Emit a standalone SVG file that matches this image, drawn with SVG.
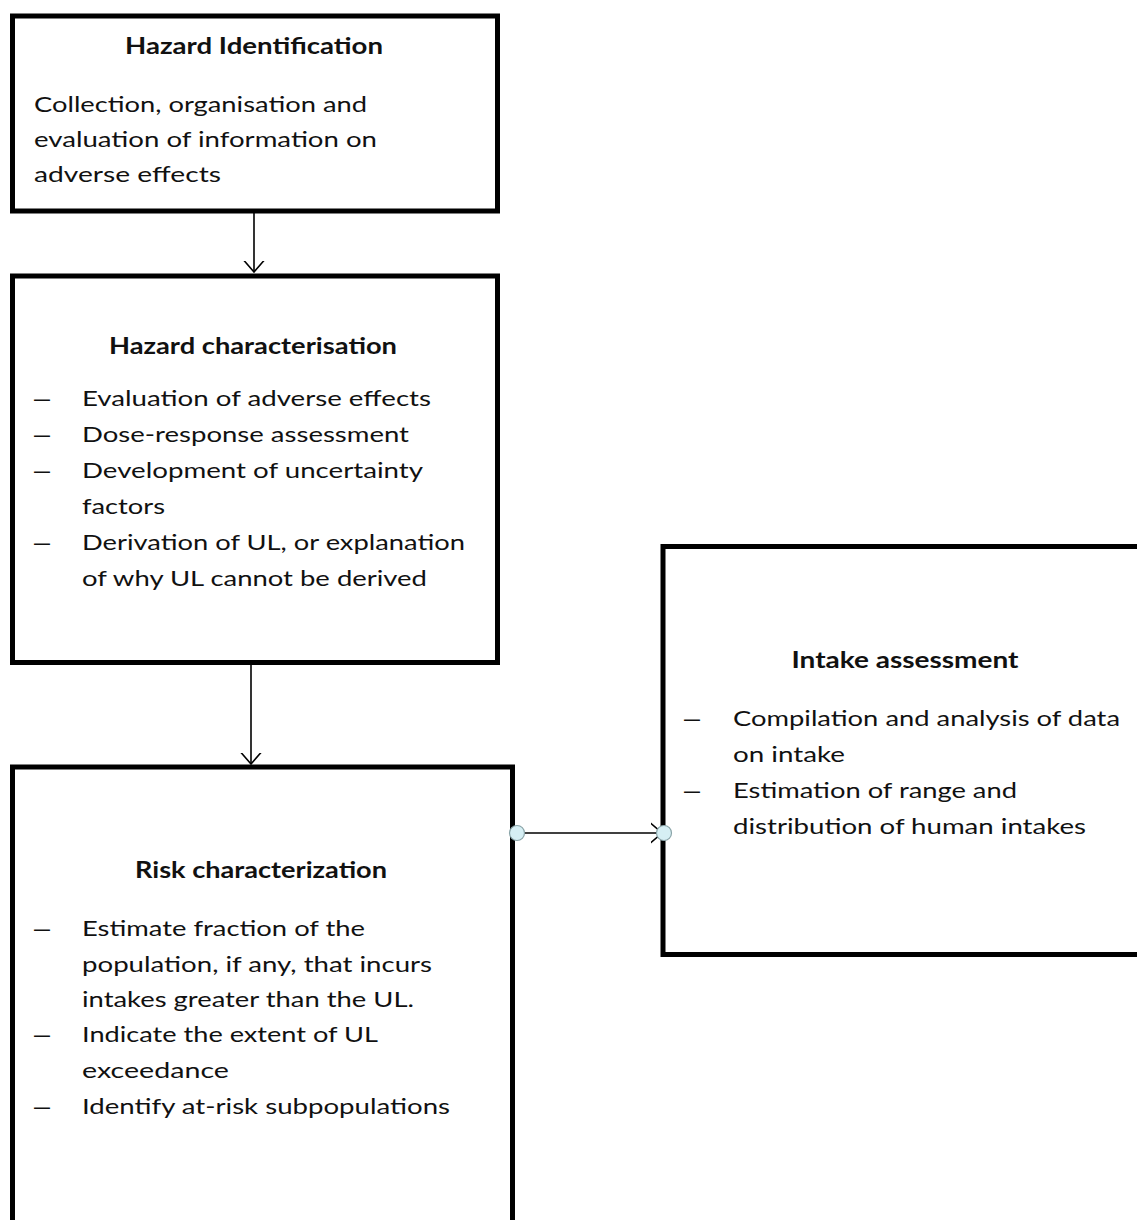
<svg xmlns="http://www.w3.org/2000/svg" width="1137" height="1220" viewBox="0 0 1137 1220">
<style>
.box{fill:#fff;stroke:#000;stroke-width:5}
.t{font-family:Lato,"Liberation Sans",sans-serif;font-size:22px;fill:#111}
.b{font-weight:bold}
.d{font-family:"Liberation Sans",sans-serif;font-size:22px;fill:#111}
.c{stroke:#000;stroke-width:1.6;fill:none}
.dot{fill:#d6eff4;stroke:#8aa4a8;stroke-width:1.2}
</style>
<defs>
<marker id="v" markerUnits="userSpaceOnUse" viewBox="0 0 12 22" refX="11.5" refY="11" markerWidth="12" markerHeight="22" orient="auto">
<path d="M0,1 L11.5,11 L0,21" fill="none" stroke="#000" stroke-width="1.6"/>
</marker>
</defs>
<rect width="1137" height="1220" fill="#fff"/>
<g id="connectors">
<line class="c" x1="254" y1="213" x2="254" y2="272" marker-end="url(#v)"/>
<line class="c" x1="251" y1="665" x2="251" y2="764" marker-end="url(#v)"/>
<line class="c" x1="517" y1="833" x2="662" y2="833" marker-end="url(#v)"/>
</g>
<g id="hazard-identification">
<rect class="box" x="12.5" y="16" width="485" height="195"/>
<text class="t b" x="254" y="54" text-anchor="middle" textLength="258" lengthAdjust="spacingAndGlyphs">Hazard Identification</text>
<text class="t" x="34" y="112" textLength="333" lengthAdjust="spacingAndGlyphs">Collection, organisation and</text>
<text class="t" x="34" y="147" textLength="343" lengthAdjust="spacingAndGlyphs">evaluation of information on</text>
<text class="t" x="34" y="182" textLength="187" lengthAdjust="spacingAndGlyphs">adverse effects</text>
</g>
<g id="hazard-characterisation">
<rect class="box" x="12.5" y="276" width="485" height="386.5"/>
<text class="t b" x="253" y="354" text-anchor="middle" textLength="288" lengthAdjust="spacingAndGlyphs">Hazard characterisation</text>
<text class="d" x="34" y="406" textLength="16" lengthAdjust="spacingAndGlyphs">–</text>
<text class="t" x="82" y="406" textLength="349" lengthAdjust="spacingAndGlyphs">Evaluation of adverse effects</text>
<text class="d" x="34" y="442" textLength="16" lengthAdjust="spacingAndGlyphs">–</text>
<text class="t" x="82" y="442" textLength="327" lengthAdjust="spacingAndGlyphs">Dose-response assessment</text>
<text class="d" x="34" y="478" textLength="16" lengthAdjust="spacingAndGlyphs">–</text>
<text class="t" x="82" y="478" textLength="341" lengthAdjust="spacingAndGlyphs">Development of uncertainty</text>
<text class="t" x="82" y="514" textLength="83" lengthAdjust="spacingAndGlyphs">factors</text>
<text class="d" x="34" y="550" textLength="16" lengthAdjust="spacingAndGlyphs">–</text>
<text class="t" x="82" y="550" textLength="383" lengthAdjust="spacingAndGlyphs">Derivation of UL, or explanation</text>
<text class="t" x="82" y="586" textLength="345" lengthAdjust="spacingAndGlyphs">of why UL cannot be derived</text>
</g>
<g id="risk-characterization">
<rect class="box" x="12.5" y="767" width="500" height="480"/>
<text class="t b" x="261" y="878" text-anchor="middle" textLength="252" lengthAdjust="spacingAndGlyphs">Risk characterization</text>
<text class="d" x="34" y="936" textLength="16" lengthAdjust="spacingAndGlyphs">–</text>
<text class="t" x="82" y="936" textLength="283" lengthAdjust="spacingAndGlyphs">Estimate fraction of the</text>
<text class="t" x="82" y="972" textLength="350" lengthAdjust="spacingAndGlyphs">population, if any, that incurs</text>
<text class="t" x="82" y="1007" textLength="332" lengthAdjust="spacingAndGlyphs">intakes greater than the UL.</text>
<text class="d" x="34" y="1042" textLength="16" lengthAdjust="spacingAndGlyphs">–</text>
<text class="t" x="82" y="1042" textLength="296" lengthAdjust="spacingAndGlyphs">Indicate the extent of UL</text>
<text class="t" x="82" y="1078" textLength="147" lengthAdjust="spacingAndGlyphs">exceedance</text>
<text class="d" x="34" y="1114" textLength="16" lengthAdjust="spacingAndGlyphs">–</text>
<text class="t" x="82" y="1114" textLength="368" lengthAdjust="spacingAndGlyphs">Identify at-risk subpopulations</text>
</g>
<g id="intake-assessment">
<rect class="box" x="663" y="546.5" width="500" height="408"/>
<text class="t b" x="905" y="668" text-anchor="middle" textLength="227" lengthAdjust="spacingAndGlyphs">Intake assessment</text>
<text class="d" x="684" y="726" textLength="16" lengthAdjust="spacingAndGlyphs">–</text>
<text class="t" x="733" y="726" textLength="387" lengthAdjust="spacingAndGlyphs">Compilation and analysis of data</text>
<text class="t" x="733" y="762" textLength="112" lengthAdjust="spacingAndGlyphs">on intake</text>
<text class="d" x="684" y="798" textLength="16" lengthAdjust="spacingAndGlyphs">–</text>
<text class="t" x="733" y="798" textLength="284" lengthAdjust="spacingAndGlyphs">Estimation of range and</text>
<text class="t" x="733" y="834" textLength="353" lengthAdjust="spacingAndGlyphs">distribution of human intakes</text>
</g>
<g id="connection-points">
<circle class="dot" cx="517" cy="833" r="7.5"/>
<circle class="dot" cx="664" cy="833" r="7.5"/>
</g>
</svg>
